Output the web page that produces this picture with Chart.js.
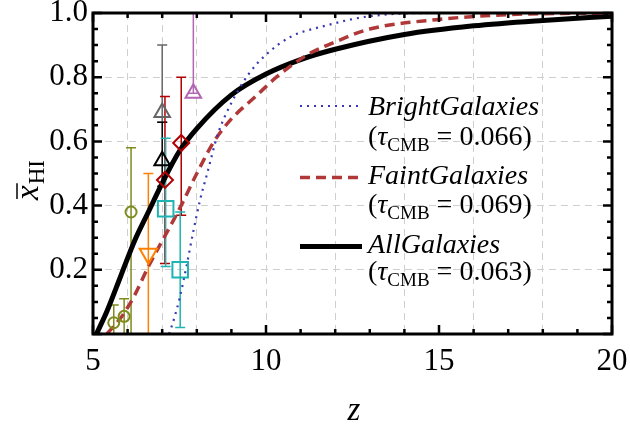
<!DOCTYPE html>
<html>
<head>
<meta charset="utf-8">
<script src="https://cdn.jsdelivr.net/npm/chart.js@4.4.0/dist/chart.umd.min.js"></script>
<style>
html, body { margin: 0; padding: 0; background: #fff; }
#wrap { width: 630px; height: 429px; }
</style>
</head>
<body>
<div id="wrap"><canvas id="chart"></canvas></div>
<script>
// model curves (redshift z, neutral fraction)
var zBright = [7.2, 7.35, 7.5, 7.7, 7.9, 8.1, 8.3, 8.6, 9.0, 9.5, 10, 10.7, 11.7, 13, 15, 20];
var xBright = [0, 0.05, 0.11, 0.21, 0.32, 0.42, 0.5, 0.62, 0.72, 0.81, 0.87, 0.925, 0.96, 0.99, 1.0, 1.0];
var zFaint = [5.4, 5.8, 6.2, 6.6, 7.0, 7.5, 8.0, 8.5, 9.0, 9.7, 10.3, 11.2, 12, 13, 15, 17, 20];
var xFaint = [0, 0.05, 0.12, 0.21, 0.29, 0.39, 0.5, 0.6, 0.67, 0.74, 0.8, 0.87, 0.91, 0.95, 0.98, 0.995, 1.0];
var zAll = [5.1, 5.4, 5.8, 6.2, 6.6, 7.0, 7.5, 8.0, 9.0, 10, 11, 12, 14, 16, 18, 20];
var xAll = [0, 0.07, 0.18, 0.29, 0.38, 0.47, 0.57, 0.64, 0.745, 0.81, 0.855, 0.887, 0.933, 0.96, 0.977, 0.99];

// observational constraints
var zOlive = [5.6, 5.9, 6.1], xOlive = [0.035, 0.055, 0.38], hiOlive = [0.09, 0.11, 0.58], loOlive = [0, 0, 0];
var zOrange = [6.6], xOrange = [0.25], hiOrange = [0.5], loOrange = [0];
var zGray = [7.0], xGray = [0.69], hiGray = [0.9], loGray = [0.66];
var zBlack = [7.0], xBlack = [0.54], hiBlack = [0.66], loBlack = [0.46];
var zRed = [7.08, 7.55], xRed = [0.48, 0.595], hiRed = [0.74, 0.8], loRed = [0.22, 0.37];
var zCyan = [7.1, 7.52], xCyan = [0.39, 0.2], hiCyan = [0.61, 0.38], loCyan = [0.21, 0.02];
var zPurple = [7.9], xPurple = [0.75], hiPurple = [1.0], loPurple = [0.75];

// legend
var legendNames = ['BrightGalaxies', 'FaintGalaxies', 'AllGalaxies'];
var legendTau = ['0.066', '0.069', '0.063'];

var xTickLabels = [5, 10, 15, 20];
var gridZ = [6, 7, 8, 10, 12, 14, 16, 18];

var fam = '"Liberation Serif"';

function pts(zs, xs) {
  return zs.map(function (z, i) { return { x: z, y: xs[i] }; });
}
function errPts(zs, xs, hi, lo) {
  return zs.map(function (z, i) { return { x: z, y: xs[i], hi: hi[i], lo: lo[i] }; });
}
function curve(zs, xs, color, width, dash) {
  return {
    data: pts(zs, xs), showLine: true, pointRadius: 0, fill: false,
    borderColor: color, borderWidth: width, borderDash: dash,
    cubicInterpolationMode: 'monotone', order: 2
  };
}
function marks(data, color, style, r, rot) {
  return {
    data: data, showLine: false, errBars: true,
    pointStyle: style, pointRadius: r, pointRotation: rot || 0,
    pointBorderColor: color, pointBackgroundColor: 'rgba(0,0,0,0)',
    pointBorderWidth: 2, order: 1
  };
}

var curveStyles = [
  { color: '#3838b4', width: 2.2, dash: [2, 5] },
  { color: '#b03838', width: 3.5, dash: [10, 6] },
  { color: '#000000', width: 5, dash: [] }
];

var decor = {
  id: 'decor',
  beforeDatasetsDraw: function (chart) {
    var ctx = chart.ctx, xs = chart.scales.x, ys = chart.scales.y, a = chart.chartArea;
    ctx.save();
    ctx.beginPath();
    ctx.rect(a.left, a.top, a.right - a.left, a.bottom - a.top);
    ctx.clip();
    chart.data.datasets.forEach(function (ds) {
      if (!ds.errBars) return;
      ctx.strokeStyle = ds.pointBorderColor;
      ctx.lineWidth = 1.5;
      ds.data.forEach(function (p) {
        var px = xs.getPixelForValue(p.x);
        var y1 = ys.getPixelForValue(p.hi), y0 = ys.getPixelForValue(p.lo);
        ctx.beginPath();
        ctx.moveTo(px, y0); ctx.lineTo(px, y1);
        ctx.moveTo(px - 5, y1); ctx.lineTo(px + 5, y1);
        if (p.lo > 0) { ctx.moveTo(px - 5, y0); ctx.lineTo(px + 5, y0); }
        ctx.stroke();
      });
    });
    ctx.restore();
  },
  afterDraw: function (chart) {
    var ctx = chart.ctx, xs = chart.scales.x, ys = chart.scales.y, a = chart.chartArea;
    ctx.save();
    // frame
    ctx.strokeStyle = '#000';
    ctx.lineWidth = 3;
    ctx.strokeRect(a.left, a.top, a.right - a.left, a.bottom - a.top);
    // inward ticks
    ctx.lineWidth = 2.5;
    ctx.beginPath();
    for (var z = 5; z <= 20; z++) {
      var px = xs.getPixelForValue(z);
      var len = z % 5 === 0 ? 9 : 5;
      ctx.moveTo(px, a.bottom); ctx.lineTo(px, a.bottom - len);
      ctx.moveTo(px, a.top); ctx.lineTo(px, a.top + len);
    }
    for (var k = 0; k <= 20; k++) {
      var py = ys.getPixelForValue(k * 0.05);
      var l2 = k % 4 === 0 ? 9 : 5;
      ctx.moveTo(a.left, py); ctx.lineTo(a.left + l2, py);
      ctx.moveTo(a.right, py); ctx.lineTo(a.right - l2, py);
    }
    ctx.stroke();

    // legend
    var lineY = [106, 177.5, 246.5];
    var nameY = [115, 184, 253];
    var tauY = [145, 213, 280];
    ctx.fillStyle = '#000';
    ctx.textBaseline = 'alphabetic';
    ctx.textAlign = 'left';
    for (var i = 0; i < 3; i++) {
      var st = curveStyles[i];
      ctx.strokeStyle = st.color;
      ctx.lineWidth = st.width;
      ctx.setLineDash(st.dash);
      ctx.beginPath();
      ctx.moveTo(300, lineY[i]); ctx.lineTo(362, lineY[i]);
      ctx.stroke();
      ctx.setLineDash([]);
      ctx.font = 'italic 28px ' + fam;
      ctx.fillText(legendNames[i], 368, nameY[i]);
      var tx = 368;
      ctx.font = '28px ' + fam;
      ctx.fillText('(', tx, tauY[i]); tx += ctx.measureText('(').width;
      ctx.font = 'italic 28px ' + fam;
      ctx.fillText('\u03C4', tx, tauY[i]); tx += ctx.measureText('\u03C4').width;
      ctx.font = '19px ' + fam;
      ctx.fillText('CMB', tx, tauY[i] + 6); tx += ctx.measureText('CMB').width;
      ctx.font = '28px ' + fam;
      ctx.fillText(' = ' + legendTau[i] + ')', tx, tauY[i]);
    }

    // axis titles
    ctx.font = 'italic 33px ' + fam;
    ctx.textAlign = 'center';
    ctx.fillText('z', 354, 420);

    ctx.translate(38, 200);
    ctx.rotate(-Math.PI / 2);
    ctx.textAlign = 'left';
    ctx.font = 'italic 33px ' + fam;
    ctx.fillText('x', 0, 0);
    var w = ctx.measureText('x').width;
    ctx.strokeStyle = '#000';
    ctx.lineWidth = 1.5;
    ctx.beginPath();
    ctx.moveTo(1, -21); ctx.lineTo(w + 2, -21);
    ctx.stroke();
    ctx.font = '23px ' + fam;
    ctx.fillText('HI', w + 1, 6);
    ctx.restore();
  }
};

new Chart(document.getElementById('chart'), {
  type: 'scatter',
  data: {
    datasets: [
      marks(errPts(zOlive, xOlive, hiOlive, loOlive), '#7f8c1c', 'circle', 5.5),
      marks(errPts(zOrange, xOrange, hiOrange, loOrange), '#ff8000', 'triangle', 10, 180),
      marks(errPts(zGray, xGray, hiGray, loGray), '#666666', 'triangle', 9),
      marks(errPts(zBlack, xBlack, hiBlack, loBlack), '#000000', 'triangle', 9),
      marks(errPts(zRed, xRed, hiRed, loRed), '#b00000', 'rectRot', 8),
      marks(errPts(zCyan, xCyan, hiCyan, loCyan), '#1fb3b3', 'rect', 11),
      marks(errPts(zPurple, xPurple, hiPurple, loPurple), '#b366b3', 'triangle', 9),
      curve(zBright, xBright, curveStyles[0].color, curveStyles[0].width, curveStyles[0].dash),
      curve(zFaint, xFaint, curveStyles[1].color, curveStyles[1].width, curveStyles[1].dash),
      curve(zAll, xAll, curveStyles[2].color, curveStyles[2].width, curveStyles[2].dash)
    ]
  },
  options: {
    responsive: true,
    maintainAspectRatio: false,
    animation: false,
    devicePixelRatio: 1,
    events: [],
    layout: { padding: { top: 13, right: 18, left: 0, bottom: 0 } },
    plugins: { legend: { display: false }, tooltip: { enabled: false } },
    scales: {
      x: {
        type: 'linear', min: 5, max: 20,
        afterFit: function (s) { s.height = 95; s.paddingLeft = 0; s.paddingRight = 0; },
        ticks: {
          stepSize: 1, autoSkip: false, maxRotation: 0, padding: 9, color: '#000',
          font: { family: fam, size: 31 },
          callback: function (v) { return xTickLabels.indexOf(v) >= 0 ? String(v) : ''; }
        },
        grid: {
          drawTicks: false, lineWidth: 1,
          color: function (c) { return gridZ.indexOf(c.tick.value) >= 0 ? '#cfcfcf' : 'rgba(0,0,0,0)'; }
        },
        border: { display: false, dash: [7, 5] }
      },
      y: {
        min: 0, max: 1,
        afterFit: function (s) { s.width = 93; s.paddingTop = 0; s.paddingBottom = 0; },
        ticks: {
          stepSize: 0.2, padding: 5, color: '#000',
          font: { family: fam, size: 31 },
          callback: function (v) { return v > 0.01 ? v.toFixed(1) : ''; }
        },
        grid: {
          drawTicks: false, lineWidth: 1,
          color: function (c) { var v = c.tick.value; return (v > 0.01 && v < 0.99) ? '#cfcfcf' : 'rgba(0,0,0,0)'; }
        },
        border: { display: false, dash: [7, 5] }
      }
    }
  },
  plugins: [decor]
});
</script>
</body>
</html>
